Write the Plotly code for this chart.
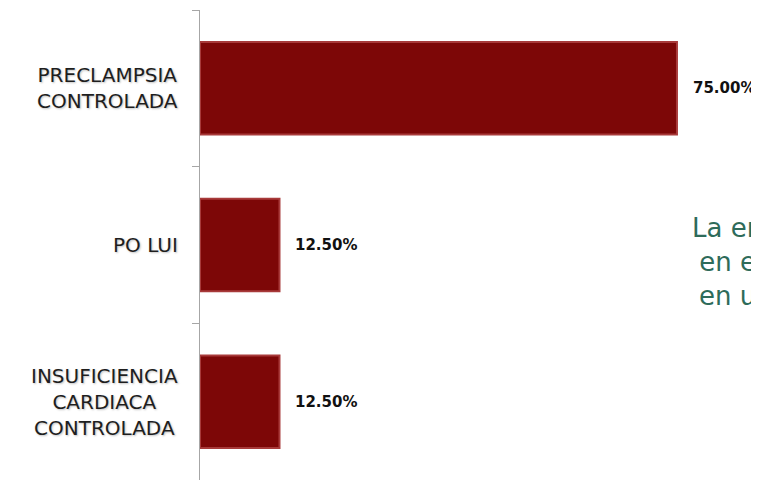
import plotly.graph_objects as go

categorias = ['PRECLAMPSIA<br>CONTROLADA', 'PO LUI', 'INSUFICIENCIA<br>CARDIACA<br>CONTROLADA']
porcentajes = [75.00, 12.50, 12.50]
etiquetas = ['75.00%', '12.50%', '12.50%']

fig = go.Figure()

fig.add_trace(go.Bar(
    x=porcentajes,
    y=categorias,
    orientation='h',
    marker=dict(color='#7d0707', line=dict(color='#a83a3a', width=2)),
    hoverinfo='x+y'
))

# nombres de categoria centrados a la izquierda del eje
for cat in categorias:
    fig.add_annotation(
        x=-0.036, xref='paper', y=cat, yref='y',
        text=cat, showarrow=False, xanchor='right', align='center',
        font=dict(family='DejaVu Sans', size=20, color='#1e1e1e',
                  shadow='1px 1px 2px rgba(0,0,0,0.25)')
    )

# porcentajes a la derecha de cada barra
for cat, val, txt in zip(categorias, porcentajes, etiquetas):
    fig.add_annotation(
        x=val, y=cat, text=txt, showarrow=False,
        xanchor='left', xshift=14,
        font=dict(family='DejaVu Sans', size=15, color='#111111', weight='bold')
    )

# texto de la diapositiva, cortado por el borde derecho
fig.add_annotation(
    x=(690 - 200) / 559, xref='paper', y=1 - (262 - 10) / 470, yref='paper',
    text='La en<br>en e<br>en u', showarrow=False, xanchor='left', yanchor='middle',
    align='center',
    font=dict(family='DejaVu Sans', size=26, color='#2e6b5a')
)

# la pagina deja 8px de margen en el body: se compensa aqui
fig.update_layout(
    width=751, height=472,
    margin=dict(l=192, r=0, t=2, b=0, autoexpand=False),
    paper_bgcolor='white', plot_bgcolor='white',
    showlegend=False, bargap=0.41,
    xaxis=dict(range=[0, 87.9], visible=False, fixedrange=True),
    yaxis=dict(autorange='reversed', showticklabels=False,
               showline=True, linecolor='#a6a6a6', linewidth=1,
               ticks='outside', tickson='boundaries', ticklen=7,
               tickcolor='#a6a6a6', showgrid=False, fixedrange=True)
)

fig.write_html("out.html")
